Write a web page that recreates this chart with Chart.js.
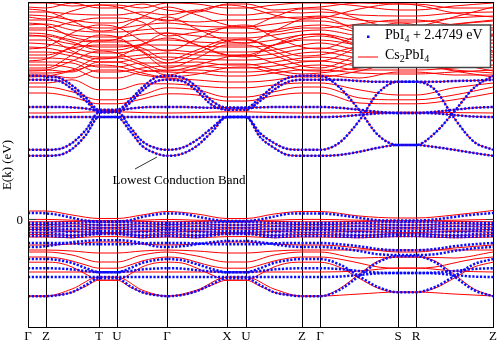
<!DOCTYPE html>
<html><head><meta charset="utf-8">
<script src="https://cdn.jsdelivr.net/npm/chart.js@4/dist/chart.umd.min.js"></script>
<style>html,body{margin:0;padding:0;background:#fff;overflow:hidden}</style>
</head><body>
<canvas id="c" width="498" height="346"></canvas>
<script>
// ---- k-path (arbitrary path length units) ----
const kTicks  = [0, 18, 71, 89, 139, 199, 218, 274, 292, 370, 388, 465];
const kLabels = ['Γ', 'Z', 'T', 'U', 'Γ', 'X', 'U', 'Z', 'Γ', 'S', 'R', 'Z'];
const kFine   = [0,9,18, 31,44,58,71, 80,89, 102,114,127,139, 154,169,184,199, 208,218, 232,246,260,274, 283,292, 311,331,350,370, 379,388, 407,426,446,465];
const kCoarse = [0,18,44,71,89,114,139,169,199,218,246,274,292,331,370,388,426,465];
const yTicks  = [0];
const yTitle  = 'E(k) (eV)';
const seriesNames = ['PbI4 + 2.4749 eV', 'Cs2PbI4'];

// ---- PbI4 (+2.4749 eV) lower conduction bands, eV on kFine ----
const cbU1 = [3.58,3.58,3.56, 3.53,3.34,3.03,2.73, 2.73,2.73, 2.98,3.28,3.53,3.58, 3.54,3.30,2.95,2.78, 2.78,2.78, 3.03,3.33,3.53,3.58, 3.58,3.58, 3.30,2.73,2.10,1.85, 1.85,1.85, 2.15,2.68,3.28,3.58];
const cbU2 = [3.48,3.48,3.48, 3.45,3.25,2.95,2.68, 2.68,2.68, 2.90,3.20,3.43,3.48, 3.45,3.20,2.85,2.73, 2.73,2.73, 2.95,3.23,3.43,3.48, 3.48,3.48, 3.48,3.45,3.43,3.43, 3.43,3.43, 3.43,3.45,3.46,3.48];
const cbL1 = [1.73,1.73,1.73, 1.75,1.90,2.23,2.66, 2.66,2.68, 2.30,1.95,1.78,1.73, 1.78,1.98,2.28,2.55, 2.55,2.55, 2.15,1.90,1.75,1.73, 1.73,1.73, 1.90,2.45,3.15,3.43, 3.43,3.43, 3.23,2.53,1.93,1.73];
const cbL2 = [1.58,1.58,1.58, 1.60,1.75,2.10,2.55, 2.55,2.55, 2.20,1.83,1.65,1.58, 1.63,1.83,2.18,2.55, 2.55,2.55, 2.05,1.78,1.60,1.58, 1.58,1.58, 1.60,1.68,1.78,1.85, 1.85,1.85, 1.80,1.73,1.65,1.58];
const cbM1 = [2.80,2.80,2.80, 2.80,2.79,2.76,2.71, 2.71,2.71, 2.76,2.79,2.80,2.80, 2.80,2.79,2.78,2.78, 2.78,2.78, 2.79,2.80,2.80,2.80, 2.80,2.80, 2.78,2.73,2.68,2.65, 2.65,2.65, 2.68,2.73,2.78,2.80];
const cbM2 = [2.55,2.55,2.55, 2.55,2.55,2.55,2.55, 2.55,2.55, 2.55,2.55,2.55,2.55, 2.55,2.55,2.55,2.55, 2.55,2.55, 2.55,2.55,2.55,2.55, 2.55,2.55, 2.56,2.60,2.64,2.65, 2.65,2.65, 2.64,2.60,2.56,2.55];

// ---- PbI4 valence bands, eV on kFine ----
const vbTop = [0.15,0.15,0.14, 0.10,0.03,-0.04,-0.06, -0.06,-0.06, -0.03,0.05,0.11,0.14, 0.13,0.06,-0.01,-0.05, -0.05,-0.05, -0.01,0.06,0.13,0.14, 0.14,0.14, 0.10,0.03,-0.03,-0.04, -0.04,-0.04, -0.01,0.05,0.11,0.15];
const vbA  = [-0.60,-0.60,-0.60, -0.60,-0.61,-0.63,-0.63, -0.63,-0.63, -0.63,-0.61,-0.60,-0.60, -0.60,-0.61,-0.63,-0.63, -0.63,-0.63, -0.63,-0.61,-0.60,-0.60, -0.60,-0.60, -0.63,-0.68,-0.75,-0.78, -0.78,-0.78, -0.75,-0.68,-0.63,-0.60];
const vbB  = [-0.70,-0.70,-0.68, -0.63,-0.58,-0.55,-0.53, -0.53,-0.53, -0.55,-0.60,-0.68,-0.70, -0.68,-0.63,-0.58,-0.55, -0.55,-0.55, -0.58,-0.63,-0.68,-0.70, -0.70,-0.70, -0.73,-0.80,-0.88,-0.90, -0.90,-0.90, -0.88,-0.80,-0.73,-0.70];
const vbU1 = [-1.00,-1.00,-1.00, -1.03,-1.10,-1.23,-1.33, -1.33,-1.33, -1.23,-1.10,-1.03,-1.00, -1.03,-1.13,-1.25,-1.33, -1.33,-1.33, -1.23,-1.10,-1.03,-1.00, -1.00,-1.00, -1.13,-1.43,-1.70,-1.83, -1.83,-1.83, -1.70,-1.43,-1.13,-1.00];
const vbL1 = [-1.93,-1.93,-1.93, -1.90,-1.83,-1.65,-1.48, -1.48,-1.48, -1.68,-1.83,-1.90,-1.93, -1.90,-1.80,-1.63,-1.48, -1.48,-1.48, -1.65,-1.83,-1.90,-1.93, -1.93,-1.93, -1.78,-1.43,-1.08,-0.93, -0.93,-0.93, -1.08,-1.43,-1.78,-1.93];
const vbM1 = [-1.23,-1.23,-1.23, -1.24,-1.26,-1.30,-1.33, -1.33,-1.33, -1.30,-1.26,-1.24,-1.23, -1.24,-1.28,-1.31,-1.33, -1.33,-1.33, -1.30,-1.26,-1.24,-1.23, -1.23,-1.23, -1.25,-1.30,-1.34,-1.35, -1.35,-1.35, -1.34,-1.30,-1.25,-1.23];
const vbM2 = [-1.45,-1.45,-1.45, -1.45,-1.45,-1.45,-1.45, -1.45,-1.45, -1.45,-1.45,-1.45,-1.45, -1.45,-1.45,-1.45,-1.45, -1.45,-1.45, -1.45,-1.45,-1.45,-1.45, -1.45,-1.45, -1.44,-1.40,-1.36,-1.35, -1.35,-1.35, -1.36,-1.40,-1.44,-1.45];
// dense PbI4 valence block, eV on kCoarse
const vbD1 = [-0.10,-0.10,-0.10,-0.075,-0.075,-0.10,-0.10,-0.10,-0.075,-0.075,-0.10,-0.10,-0.10,-0.10,-0.075,-0.075,-0.10,-0.10];
const vbD2 = [-0.15,-0.15,-0.175,-0.15,-0.15,-0.175,-0.15,-0.175,-0.15,-0.15,-0.175,-0.15,-0.15,-0.175,-0.15,-0.15,-0.175,-0.15];
const vbD3 = [-0.225,-0.225,-0.25,-0.225,-0.225,-0.25,-0.225,-0.25,-0.225,-0.225,-0.25,-0.225,-0.225,-0.25,-0.225,-0.225,-0.25,-0.225];
const vbD4 = [-0.275,-0.275,-0.325,-0.30,-0.30,-0.325,-0.275,-0.325,-0.30,-0.30,-0.325,-0.275,-0.275,-0.325,-0.30,-0.30,-0.325,-0.275];
const vbD5 = [-0.35,-0.35,-0.40,-0.35,-0.35,-0.40,-0.35,-0.40,-0.35,-0.35,-0.40,-0.35,-0.35,-0.40,-0.375,-0.375,-0.40,-0.35];
const vbD6 = [-0.425,-0.425,-0.45,-0.375,-0.375,-0.45,-0.425,-0.45,-0.375,-0.375,-0.45,-0.425,-0.425,-0.45,-0.425,-0.425,-0.45,-0.425];

// ---- Cs2PbI4 extra conduction bands, eV on kCoarse ----
const rcE1 = [3.30,3.30,3.18,2.98,2.98,3.10,3.28,3.23,3.05,3.05,3.18,3.30,3.30,3.03,2.98,2.98,3.10,3.30];
const rcE2 = [3.15,3.15,3.05,2.88,2.88,3.00,3.13,3.10,2.95,2.95,3.08,3.15,3.15,2.90,2.88,2.88,2.98,3.15];
const rcE3 = [3.40,3.40,3.48,3.23,3.23,3.38,3.38,3.33,3.28,3.28,3.35,3.40,3.40,3.23,3.10,3.10,3.28,3.40];
const rcE4 = [2.65,2.65,2.66,2.68,2.68,2.66,2.65,2.66,2.68,2.68,2.66,2.65,2.65,2.66,2.67,2.67,2.66,2.65];
const rcD1 = [5.40,5.40,5.325,5.35,5.35,5.275,5.40,5.375,5.275,5.275,5.35,5.40,5.40,5.325,5.225,5.225,5.325,5.40];
const rcD2 = [5.30,5.275,5.40,5.275,5.275,5.375,5.225,5.175,5.375,5.375,5.225,5.275,5.30,5.40,5.375,5.375,5.275,5.275];
const rcD3 = [5.175,5.175,5.125,5.10,5.10,5.175,5.10,5.225,5.10,5.10,5.175,5.15,5.175,5.10,5.075,5.075,5.15,5.175];
const rcD4 = [5.10,5.075,4.975,4.90,4.90,5.025,4.975,4.925,4.975,4.975,5.025,5.05,5.075,4.975,4.925,4.925,5.025,5.075];
const rcD5 = [4.975,4.975,4.85,4.775,4.775,4.85,4.90,4.825,4.80,4.80,4.875,4.95,4.95,4.80,4.775,4.775,4.875,4.975];
const rcD6 = [4.85,4.875,4.725,4.675,4.675,4.725,4.775,4.725,4.65,4.65,4.725,4.825,4.85,4.675,4.625,4.625,4.75,4.85];
const rcD7 = [4.725,4.725,4.60,4.55,4.55,4.625,4.65,4.575,4.525,4.525,4.60,4.70,4.725,4.575,4.475,4.475,4.625,4.725];
const rcD8 = [4.65,4.625,4.475,4.425,4.425,4.475,4.475,4.425,4.40,4.40,4.475,4.60,4.625,4.45,4.375,4.375,4.525,4.625];
const rcD9 = [4.475,4.475,4.375,4.30,4.30,4.35,4.35,4.325,4.30,4.30,4.35,4.475,4.475,4.35,4.275,4.275,4.40,4.475];
const rcD10 = [4.40,4.375,4.275,4.15,4.15,4.225,4.225,4.175,4.175,4.175,4.225,4.35,4.40,4.225,4.175,4.175,4.275,4.40];
const rcD11 = [4.30,4.275,4.15,4.05,4.05,4.10,4.15,4.10,4.075,4.075,4.125,4.25,4.275,4.125,4.05,4.05,4.175,4.30];
const rcD12 = [4.175,4.175,4.075,3.925,3.925,4.025,4.05,4.00,3.975,3.975,4.025,4.15,4.175,4.025,3.975,3.975,4.075,4.175];
const rcD13 = [4.025,4.025,3.975,3.80,3.80,3.90,3.90,3.925,3.85,3.85,3.925,4.025,4.05,3.925,3.875,3.875,3.975,4.05];
const rcD14 = [3.925,3.925,3.90,3.675,3.675,3.775,3.825,3.825,3.775,3.775,3.825,3.925,3.95,3.825,3.80,3.80,3.875,3.975];
const rcD15 = [3.85,3.85,3.775,3.525,3.525,3.675,3.725,3.725,3.675,3.675,3.725,3.825,3.85,3.725,3.725,3.725,3.775,3.85];
const rcD16 = [3.725,3.725,3.675,3.925,3.925,3.725,3.675,3.65,3.575,3.575,3.65,3.725,3.725,3.65,3.625,3.625,3.675,3.725];
const rcD17 = [3.65,3.65,3.725,4.025,4.025,3.85,3.60,3.775,3.875,3.875,3.725,3.625,3.65,3.775,3.825,3.825,3.725,3.65];
const rcD18 = [4.775,4.775,4.925,5.025,5.025,4.925,4.575,4.675,4.775,4.775,4.675,4.775,4.775,4.875,4.975,4.975,4.85,4.775];
const rcD19 = [4.10,4.10,4.275,4.35,4.35,4.275,3.975,4.225,4.475,4.475,4.275,4.075,4.10,4.325,4.525,4.525,4.35,4.10];
const rcD20 = [4.575,4.575,4.425,4.225,4.225,4.375,4.525,4.35,4.10,4.10,4.35,4.525,4.575,4.375,4.225,4.225,4.40,4.575];
const rcD21 = [3.775,3.775,4.10,4.475,4.475,4.175,3.775,4.025,4.35,4.35,4.10,3.825,3.775,4.10,4.35,4.35,4.025,3.775];
const rcD22 = [3.60,3.60,3.525,3.725,3.725,3.60,3.525,3.475,3.425,3.425,3.475,3.575,3.60,3.525,3.675,3.675,3.60,3.60];
const rcD23 = [4.90,4.85,4.55,4.45,4.50,4.80,5.05,4.75,4.45,4.40,4.70,5.00,5.05,4.70,4.50,4.55,4.85,4.95];
const rcD24 = [4.25,4.30,4.65,4.85,4.80,4.45,4.20,4.50,4.80,4.85,4.55,4.30,4.25,4.60,4.90,4.85,4.50,4.20];
const rcD25 = [3.95,4.00,4.30,4.60,4.55,4.20,3.90,4.15,4.45,4.50,4.20,3.95,3.95,4.30,4.60,4.55,4.25,3.95];
const rcD26 = [5.25,5.20,4.95,4.70,4.75,5.05,5.30,5.10,4.85,4.80,5.05,5.25,5.25,5.00,4.75,4.80,5.05,5.30];
const rcD27 = [3.70,3.72,3.95,4.20,4.15,3.90,3.70,3.85,4.05,4.10,3.90,3.72,3.70,3.95,4.20,4.15,3.90,3.70];
const rcD28 = [4.60,4.55,4.20,4.00,4.05,4.35,4.65,4.35,4.10,4.05,4.35,4.60,4.62,4.30,4.00,4.05,4.35,4.60];
const rcD29 = [5.05,5.00,5.20,5.35,5.30,5.10,4.95,5.20,5.35,5.30,5.10,5.00,5.02,5.25,5.38,5.35,5.15,5.05];
const rcD30 = [3.55,3.57,3.70,3.85,3.82,3.65,3.55,3.62,3.78,3.80,3.65,3.55,3.55,3.70,3.90,3.88,3.70,3.55];

// ---- Cs2PbI4 valence bands ----
const rvTop = [0.20,0.20,0.10,0.0125,0.0125,0.10,0.1875,0.125,0.0125,0.0125,0.125,0.1875,0.1875,0.075,0.025,0.025,0.10,0.2125];
const rvTop2 = [-0.01,-0.01,-0.03,-0.04,-0.04,-0.03,-0.01,-0.03,-0.04,-0.04,-0.03,-0.01,-0.01,-0.03,-0.04,-0.04,-0.03,-0.01];
const rvD1 = [-0.07,-0.07,-0.06,-0.08,-0.08,-0.06,-0.07,-0.06,-0.08,-0.08,-0.06,-0.07,-0.07,-0.06,-0.08,-0.08,-0.06,-0.07];
const rvD2 = [-0.14,-0.14,-0.12,-0.15,-0.15,-0.12,-0.14,-0.12,-0.15,-0.15,-0.12,-0.14,-0.14,-0.12,-0.15,-0.15,-0.12,-0.14];
const rvD3 = [-0.20,-0.20,-0.19,-0.21,-0.21,-0.19,-0.20,-0.19,-0.21,-0.21,-0.19,-0.20,-0.20,-0.19,-0.21,-0.21,-0.19,-0.20];
const rvD4 = [-0.26,-0.26,-0.28,-0.25,-0.25,-0.28,-0.26,-0.28,-0.25,-0.25,-0.28,-0.26,-0.26,-0.28,-0.25,-0.25,-0.28,-0.26];
const rvD5 = [-0.33,-0.33,-0.31,-0.34,-0.34,-0.31,-0.33,-0.31,-0.34,-0.34,-0.31,-0.33,-0.33,-0.31,-0.34,-0.34,-0.31,-0.33];
const rvD6 = [-0.39,-0.39,-0.41,-0.37,-0.37,-0.41,-0.39,-0.41,-0.37,-0.37,-0.41,-0.39,-0.39,-0.41,-0.37,-0.37,-0.41,-0.39];
const rvD7 = [-0.45,-0.45,-0.47,-0.44,-0.44,-0.47,-0.45,-0.47,-0.44,-0.44,-0.47,-0.45,-0.45,-0.47,-0.44,-0.44,-0.47,-0.45];
const rvA = [-0.65,-0.65,-0.625,-0.575,-0.575,-0.625,-0.65,-0.625,-0.575,-0.575,-0.625,-0.65,-0.65,-0.725,-0.825,-0.825,-0.725,-0.65];
const rvB = [-0.775,-0.775,-0.80,-0.85,-0.85,-0.80,-0.775,-0.80,-0.85,-0.85,-0.80,-0.775,-0.775,-0.775,-0.775,-0.775,-0.775,-0.775];
const rvC = [-0.825,-0.825,-0.90,-1.075,-1.075,-0.90,-0.825,-0.925,-1.075,-1.075,-0.90,-0.825,-0.825,-0.975,-0.95,-0.95,-0.975,-0.825];
const rvF = [-1.325,-1.325,-1.325,-1.325,-1.325,-1.325,-1.325,-1.325,-1.325,-1.325,-1.325,-1.325,-1.325,-1.30,-1.225,-1.225,-1.30,-1.325];
const rvH = [-1.925,-1.925,-1.75,-1.45,-1.45,-1.775,-1.925,-1.775,-1.45,-1.45,-1.75,-1.925,-1.925,-1.875,-1.825,-1.825,-1.875,-1.925];
const rvD = [-0.95,-0.95,-0.95, -0.98,-1.05,-1.15,-1.23, -1.23,-1.23, -1.15,-1.05,-0.98,-0.95, -0.98,-1.08,-1.18,-1.23, -1.23,-1.23, -1.15,-1.05,-0.98,-0.95, -0.95,-0.95, -1.00,-1.10,-1.20,-1.23, -1.23,-1.23, -1.20,-1.10,-1.00,-0.95];
const rvE = [-1.08,-1.08,-1.08, -1.10,-1.20,-1.38,-1.53, -1.53,-1.53, -1.38,-1.20,-1.10,-1.08, -1.10,-1.23,-1.40,-1.53, -1.53,-1.53, -1.38,-1.20,-1.10,-1.08, -1.08,-1.08, -1.20,-1.48,-1.73,-1.83, -1.83,-1.83, -1.73,-1.48,-1.20,-1.08];
const rvG = [-1.93,-1.93,-1.93, -1.90,-1.83,-1.68,-1.53, -1.53,-1.53, -1.70,-1.83,-1.90,-1.93, -1.90,-1.80,-1.65,-1.53, -1.53,-1.53, -1.68,-1.83,-1.90,-1.93, -1.93,-1.93, -1.75,-1.38,-1.05,-0.95, -0.95,-0.95, -1.05,-1.38,-1.75,-1.93];

// annotation (data coordinates)
const annText = 'Lowest Conduction Band';
const annTextAt = {k: 151, e: 0.95};
const annLine = [{k: 107, e: 1.25}, {k: 129, e: 1.55}];

// ---- assemble ----
const blueFine = [cbU1, cbU2, cbL1, cbL2, cbM1, cbM2, vbTop, vbA, vbB, vbU1, vbL1, vbM1, vbM2];
const blueCoarse = [vbD1, vbD2, vbD3, vbD4, vbD5, vbD6];
const redFine = [cbU1, cbU2, cbL1, cbL2, cbM1, cbM2, rvD, rvE, rvG];
const redCoarse = [rcE1, rcE2, rcE3, rcE4, rcD1, rcD2, rcD3, rcD4, rcD5, rcD6, rcD7, rcD8, rcD9, rcD10, rcD11, rcD12, rcD13, rcD14, rcD15, rcD16, rcD17, rcD18, rcD19, rcD20, rcD21, rcD22,
  rcD23, rcD24, rcD25, rcD26, rcD27, rcD28, rcD29, rcD30,
  rvTop, rvTop2, rvD1, rvD2, rvD3, rvD4, rvD5, rvD6, rvD7, rvA, rvB, rvC, rvF, rvH];

const pts = (ks, es) => es.map((e, i) => ({x: ks[i], y: e}));
const blueStyle = {borderColor: '#0a0aff', borderWidth: 2.5, borderDash: [2.2, 1.6], pointRadius: 0, fill: false, order: 0, label: seriesNames[0]};
const redStyle = {borderColor: '#ff0000', borderWidth: 1, pointRadius: 0, fill: false, order: 1, label: seriesNames[1]};
const datasets = [
  ...blueFine.map(b => Object.assign({data: pts(kFine, b)}, blueStyle)),
  ...blueCoarse.map(b => Object.assign({data: pts(kCoarse, b)}, blueStyle)),
  ...redFine.map(b => Object.assign({data: pts(kFine, b)}, redStyle)),
  ...redCoarse.map(b => Object.assign({data: pts(kCoarse, b)}, redStyle)),
];

const SERIF = '"Liberation Serif", "Times New Roman", serif';

function richText(ctx, parts, x, y) {
  let cx = x;
  for (const [t, size, dy] of parts) {
    ctx.font = size + 'px ' + SERIF;
    ctx.fillText(t, cx, y + dy);
    cx += ctx.measureText(t).width;
  }
}

const overlay = {
  id: 'overlay',
  afterDraw(chart) {
    const {ctx, chartArea: a, scales: {x, y}} = chart;
    ctx.save();
    // frame
    ctx.strokeStyle = '#000'; ctx.lineWidth = 1;
    const L = Math.floor(a.left) + 0.5, R = Math.floor(a.right) + 0.5, T = Math.floor(a.top) + 0.5, B = Math.floor(a.bottom) - 0.5;
    ctx.strokeRect(L, T, R - L, B - T);
    // inward ticks
    ctx.strokeStyle = '#444';
    yTicks.forEach(v => {
      const yp = Math.round(y.getPixelForValue(v)) + 0.5;
      ctx.beginPath(); ctx.moveTo(L, yp); ctx.lineTo(L + 8, yp); ctx.moveTo(R - 8, yp); ctx.lineTo(R, yp); ctx.stroke();
    });
    // annotation
    ctx.strokeStyle = '#333'; ctx.lineWidth = 1;
    ctx.beginPath();
    ctx.moveTo(x.getPixelForValue(annLine[0].k), y.getPixelForValue(annLine[0].e));
    ctx.lineTo(x.getPixelForValue(annLine[1].k), y.getPixelForValue(annLine[1].e));
    ctx.stroke();
    ctx.fillStyle = '#000'; ctx.font = '13px ' + SERIF; ctx.textAlign = 'center'; ctx.textBaseline = 'middle';
    ctx.fillText(annText, x.getPixelForValue(annTextAt.k), y.getPixelForValue(annTextAt.e));
    // legend
    const W = 137.5, H = 42.5;
    const lx = a.right - 2.5 - W, ly = a.top + 23;
    ctx.fillStyle = '#fff'; ctx.fillRect(lx, ly, W, H);
    ctx.strokeStyle = '#444'; ctx.lineWidth = 1.5; ctx.strokeRect(lx, ly, W, H);
    ctx.fillStyle = '#0a0aff'; ctx.fillRect(lx + 14, ly + 10.5, 2.5, 2.5);
    ctx.strokeStyle = '#ff0000'; ctx.lineWidth = 1;
    ctx.beginPath(); ctx.moveTo(lx + 5, ly + 32); ctx.lineTo(lx + 25, ly + 32); ctx.stroke();
    ctx.fillStyle = '#000'; ctx.textAlign = 'left'; ctx.textBaseline = 'alphabetic';
    richText(ctx, [['PbI', 14, 0], ['4', 10, 3], [' + 2.4749 eV', 14, 0]], lx + 32, ly + 13.5);
    richText(ctx, [['Cs', 14, 0], ['2', 10, 3], ['PbI', 14, 0], ['4', 10, 3]], lx + 32, ly + 34);
    ctx.restore();
  }
};

new Chart(document.getElementById('c'), {
  type: 'line',
  data: {datasets},
  plugins: [overlay],
  options: {
    responsive: false,
    animation: false,
    events: [],
    layout: {padding: {top: 2, right: 5, left: 0, bottom: 0}},
    elements: {line: {cubicInterpolationMode: 'monotone'}, point: {radius: 0}},
    plugins: {legend: {display: false}, tooltip: {enabled: false}},
    scales: {
      x: {
        type: 'linear', min: 0, max: 465,
        afterBuildTicks: s => { s.ticks = kTicks.map(v => ({value: v})); },
        afterFit: s => { s.height = 18; s.paddingLeft = 0; s.paddingRight = 0; },
        ticks: {autoSkip: false, maxRotation: 0, padding: 1, color: '#000', font: {family: SERIF, size: 13}, callback: (v, i) => kLabels[i]},
        grid: {color: '#000', lineWidth: 1, drawTicks: false, tickLength: 0},
        border: {display: false}
      },
      y: {
        type: 'linear', min: -2.725, max: 5.425,
        afterBuildTicks: s => { s.ticks = yTicks.map(v => ({value: v})); },
        afterFit: s => { s.width = 28; s.paddingTop = 0; s.paddingBottom = 0; },
        ticks: {padding: 5, labelOffset: 2, color: '#000', font: {family: SERIF, size: 13}, callback: v => String(v)},
        grid: {display: false, drawTicks: false, tickLength: 0},
        border: {display: false},
        title: {display: true, text: yTitle, color: '#000', font: {family: SERIF, size: 13}, padding: {top: 0, bottom: 0}}
      }
    }
  }
});
</script>
</body></html>
